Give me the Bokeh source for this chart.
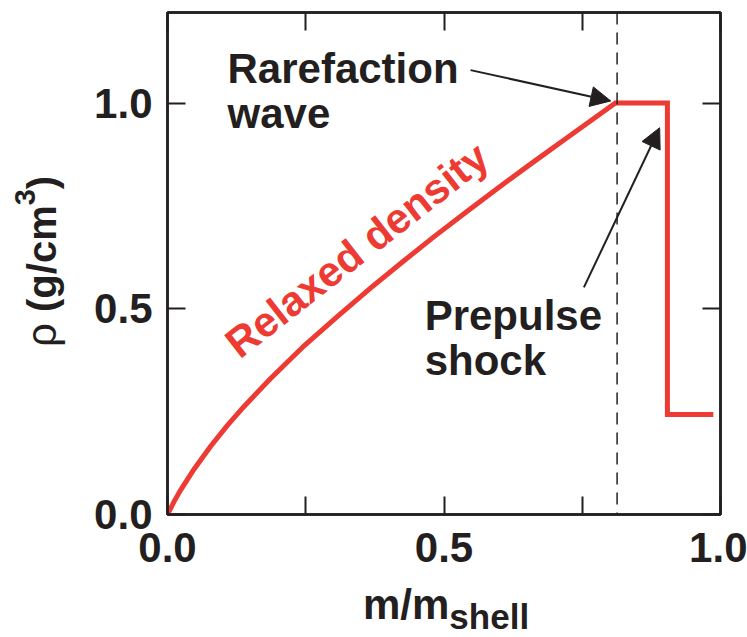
from bokeh.plotting import figure
from bokeh.models import (Range1d, FixedTicker, LinearAxis, Span, Label, Arrow,
                          NormalHead, Div)
from bokeh.layouts import row, column
from bokeh.embed import file_html
from bokeh.resources import INLINE

# Relaxed shell density vs. mass coordinate
m_frac = [0.0, 0.012, 0.024, 0.048, 0.078, 0.108, 0.138, 0.186, 0.247, 0.307,
          0.367, 0.427, 0.481, 0.542, 0.602, 0.662, 0.72, 0.81, 0.904, 0.904,
          0.987]
rho = [0.0, 0.032, 0.060, 0.110, 0.166, 0.216, 0.262, 0.330, 0.410, 0.481,
       0.550, 0.616, 0.674, 0.737, 0.798, 0.857, 0.913, 1.0, 1.0, 0.243,
       0.243]

rarefaction_m = 0.813          # position of the rarefaction front

x_ticks = [0.0, 0.25, 0.5, 0.75, 1.0]
x_tick_labels = ["0.0", "", "0.5", "", "1.0"]
y_ticks = [0.0, 0.5, 1.0]
y_tick_labels = ["0.0", "0.5", "1.0"]

INK = "#231F20"
RED = "#ED3A32"
FONT = "Liberation Sans"

YTITLE_W = 70
FIG_H = 12 + 502 + 70

p = figure(frame_width=553, frame_height=502,
           x_range=Range1d(0, 1.0), y_range=Range1d(0, 1.22),
           output_backend="svg", toolbar_location=None,
           min_border_left=167 - YTITLE_W, min_border_right=27,
           min_border_top=12, min_border_bottom=70)
p.grid.visible = False
p.background_fill_color = "white"
p.border_fill_color = "white"
p.outline_line_color = INK
p.outline_line_width = 2.5


def style_axis(ax, ticks, labels):
    ax.ticker = FixedTicker(ticks=ticks)
    ax.major_label_overrides = {t: s for t, s in zip(ticks, labels)}
    ax.major_tick_in = 18
    ax.major_tick_out = 0
    ax.minor_tick_in = 0
    ax.minor_tick_out = 0
    ax.major_tick_line_color = INK
    ax.major_tick_line_width = 2
    ax.axis_line_color = INK
    ax.axis_line_width = 2.5
    ax.major_label_text_font = FONT
    ax.major_label_text_font_style = "bold"
    ax.major_label_text_font_size = "42px"
    ax.major_label_text_color = INK


style_axis(p.xaxis[0], x_ticks, x_tick_labels)
style_axis(p.yaxis[0], y_ticks, y_tick_labels)
p.xaxis[0].major_label_standoff = 18
p.yaxis[0].major_label_standoff = 15

top_axis = LinearAxis()
style_axis(top_axis, x_ticks, [""] * len(x_ticks))
top_axis.major_label_text_font_size = "1px"
p.add_layout(top_axis, "above")

right_axis = LinearAxis()
style_axis(right_axis, y_ticks, [""] * len(y_ticks))
right_axis.major_label_text_font_size = "1px"
p.add_layout(right_axis, "right")

# rarefaction front marker
p.add_layout(Span(location=rarefaction_m, dimension="height",
                  line_color=INK, line_width=1.5, line_dash="12 8"))

# density profile
p.line(m_frac, rho, line_color=RED, line_width=5, line_join="miter")


def label(x, y, text, color=INK, angle=0.0):
    p.add_layout(Label(x=x, y=y, text=text, text_font=FONT,
                       text_font_style="bold", text_font_size="42px",
                       text_color=color, angle=angle,
                       text_align="left", text_baseline="alphabetic"))


label(0.1085, 1.084, "Rarefaction")
label(0.1085, 0.975, "wave")
label(0.465, 0.484, "Prepulse")
label(0.465, 0.375, "shock")
label(0.1145, 0.404, "Relaxed density", color=RED, angle=0.663)

head = dict(size=20, fill_color=INK, line_color=INK)
p.add_layout(Arrow(end=NormalHead(**head), x_start=0.548, y_start=1.080,
                   x_end=0.8015, y_end=1.005, line_color=INK, line_width=2))
p.add_layout(Arrow(end=NormalHead(**head), x_start=0.753, y_start=0.552,
                   x_end=0.890, y_end=0.940, line_color=INK, line_width=2))

# axis titles as HTML text (sub/superscripts and mixed weights)
TXT = f"font-family:'{FONT}'; color:{INK}; line-height:1; white-space:nowrap;"

y_title = Div(width=YTITLE_W, height=FIG_H, margin=0, text=(
    f'<div style="position:relative; width:{YTITLE_W}px; height:{FIG_H}px;">'
    f'<div style="position:absolute; left:21px; top:347px; '
    f'transform:rotate(-90deg); transform-origin:0 0; {TXT} '
    f'font-size:40px; font-weight:bold;">'
    f'<span style="font-weight:normal; font-size:42px;">\u03c1</span> (g/cm'
    f'<span style="position:relative; top:-21px; font-size:29px;">3</span>)'
    f'</div></div>'))

X_H = 637 - FIG_H
x_title = Div(width=747, height=X_H, margin=0, text=(
    f'<div style="position:relative; width:747px; height:{X_H}px;">'
    f'<div style="position:absolute; left:363px; top:0px; {TXT} '
    f'font-size:42px; font-weight:bold;">m/m'
    f'<span style="position:relative; top:10px; font-size:35px;">shell</span>'
    f'</div></div>'))

layout = column(row(y_title, p, spacing=0), x_title, spacing=0)

open("out.html", "w").write(file_html(layout, INLINE))
